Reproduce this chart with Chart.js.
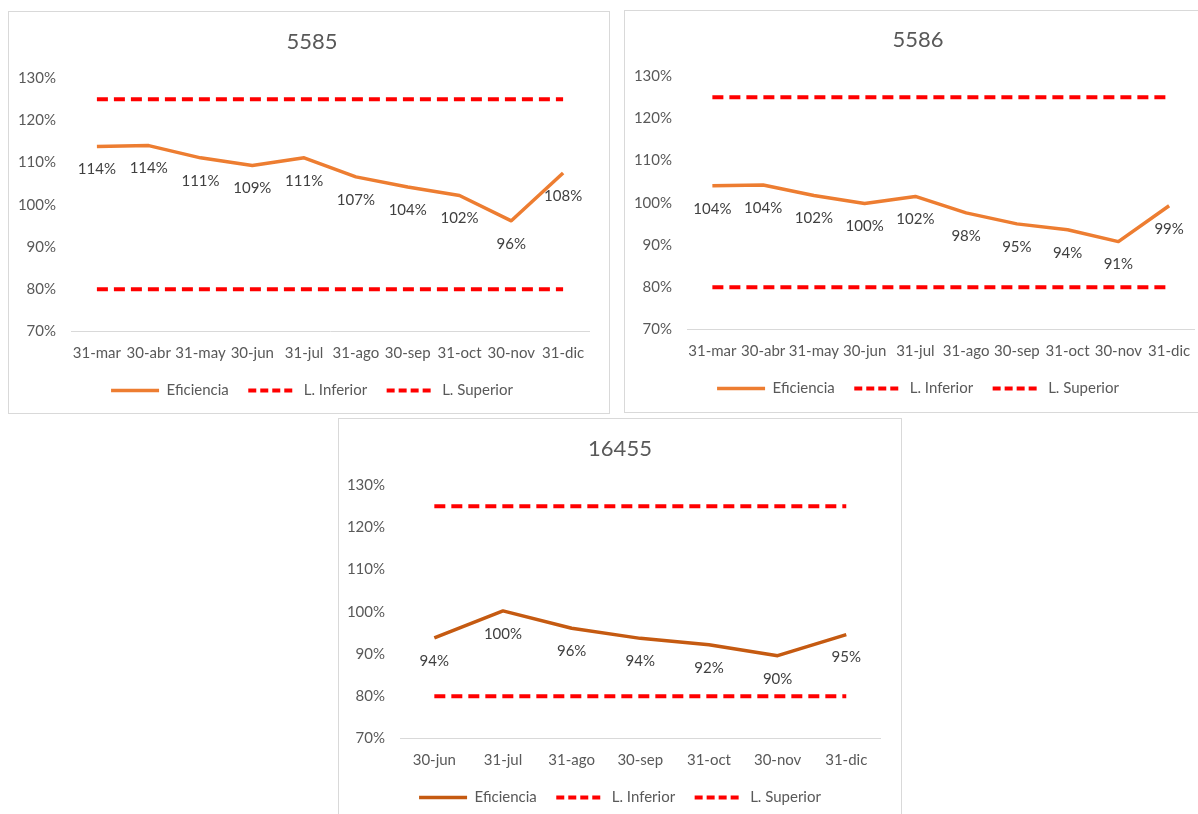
<!DOCTYPE html>
<html lang="es">
<head>
    <meta charset="UTF-8">
    <title>Eficiencia 5585 / 5586 / 16455</title>
    <style>
        html, body { margin: 0; padding: 0; background: #ffffff; overflow: hidden; width: 1198px; height: 814px; }
        .frame { position: absolute; border: 1px solid #d9d9d9; box-sizing: border-box; }
        canvas { position: absolute; }
    </style>
</head>
<body>
    <div class="frame" style="left:8px; top:11px; width:602px; height:403px;"></div>
    <div class="frame" style="left:624px; top:10px; width:600px; height:403px;"></div>
    <div class="frame" style="left:338px; top:418px; width:564px; height:420px;"></div>

    <canvas id="chart5585" width="608" height="396" style="left:8px; top:12px;"></canvas>
    <canvas id="chart5586" width="588" height="396" style="left:624px; top:10px;"></canvas>
    <canvas id="chart16455" width="564" height="396" style="left:338px; top:419px;"></canvas>

    <script src="https://cdn.jsdelivr.net/npm/chart.js"></script>

<script>
    // categories and values (percent)
    const labels5585 = ['31-mar', '30-abr', '31-may', '30-jun', '31-jul', '31-ago', '30-sep', '31-oct', '30-nov', '31-dic'];
    const eff5585 = [113.8, 114.0, 111.1, 109.3, 111.1, 106.6, 104.2, 102.2, 96.2, 107.5];
    const inf5585 = [80, 80, 80, 80, 80, 80, 80, 80, 80, 80];
    const sup5585 = [125, 125, 125, 125, 125, 125, 125, 125, 125, 125];

    const labels5586 = ['31-mar', '30-abr', '31-may', '30-jun', '31-jul', '31-ago', '30-sep', '31-oct', '30-nov', '31-dic'];
    const eff5586 = [104.0, 104.2, 101.7, 99.8, 101.5, 97.6, 95.0, 93.6, 90.8, 99.3];
    const inf5586 = [80, 80, 80, 80, 80, 80, 80, 80, 80, 80];
    const sup5586 = [125, 125, 125, 125, 125, 125, 125, 125, 125, 125];

    const labels16455 = ['30-jun', '31-jul', '31-ago', '30-sep', '31-oct', '30-nov', '31-dic'];
    const eff16455 = [93.8, 100.2, 96.1, 93.7, 92.2, 89.6, 94.6];
    const inf16455 = [80, 80, 80, 80, 80, 80, 80];
    const sup16455 = [125, 125, 125, 125, 125, 125, 125];

    const yTicks = [70, 80, 90, 100, 110, 120, 130];

    const FONT = 'Lato';

    // percent labels under each point of the first dataset
    const valueLabels = {
        id: 'valueLabels',
        afterDatasetsDraw(chart) {
            const ctx = chart.ctx;
            const meta = chart.getDatasetMeta(0);
            const data = chart.data.datasets[0].data;
            ctx.save();
            ctx.font = '15px ' + FONT;
            ctx.fillStyle = '#404040';
            ctx.textAlign = 'center';
            ctx.textBaseline = 'middle';
            meta.data.forEach((pt, i) => {
                ctx.fillText(Math.round(data[i]) + '%', pt.x, pt.y + 23);
            });
            ctx.restore();
        }
    };

    // legend items keep the dash of their dataset (shorter dashes in the legend sample)
    function legend_labels(chart) {
        const items = Chart.defaults.plugins.legend.labels.generateLabels(chart);
        items.forEach((item) => {
            const ds = chart.data.datasets[item.datasetIndex];
            item.lineDash = ds.borderDash ? [8, 4] : [];
            item.lineWidth = ds.borderWidth;
            item.strokeStyle = ds.borderColor;
            item.lineCap = 'butt';
        });
        return items;
    }

    function make_chart(id, title, labels, eff, inf, sup, lineColor, yWidth, rightGap) {
        const limitStyle = {
            borderColor: '#ff0000',
            backgroundColor: '#ff0000',
            borderWidth: 4,
            borderDash: [11, 6],
            pointRadius: 0,
            fill: false
        };
        return new Chart(document.getElementById(id).getContext('2d'), {
            type: 'line',
            data: {
                labels: labels,
                datasets: [
                    {
                        label: 'Eficiencia',
                        data: eff,
                        borderColor: lineColor,
                        backgroundColor: lineColor,
                        borderWidth: 3.5,
                        borderJoinStyle: 'round',
                        pointRadius: 0,
                        tension: 0,
                        fill: false
                    },
                    Object.assign({ label: 'L. Inferior', data: inf }, limitStyle),
                    Object.assign({ label: 'L. Superior', data: sup }, limitStyle)
                ]
            },
            options: {
                responsive: false,
                animation: false,
                layout: { padding: 0 },
                plugins: {
                    title: {
                        display: true,
                        text: title,
                        color: '#595959',
                        font: { family: FONT, size: 22, weight: 'normal' },
                        padding: { top: 16.8, bottom: 22.8 }
                    },
                    legend: {
                        position: 'bottom',
                        labels: {
                            usePointStyle: true,
                            pointStyle: 'line',
                            pointStyleWidth: 48,
                            padding: 19.5,
                            color: '#595959',
                            font: { family: FONT, size: 15 },
                            generateLabels: legend_labels
                        }
                    },
                    tooltip: { enabled: false }
                },
                scales: {
                    x: {
                        offset: true,
                        grid: { display: false, drawTicks: false },
                        border: { display: true, color: '#d9d9d9', width: 1 },
                        ticks: { color: '#595959', font: { family: FONT, size: 15 }, padding: 13, maxRotation: 0, autoSkip: false },
                        afterFit: (scale) => { scale.height = 32; }
                    },
                    y: {
                        min: 70,
                        max: 130,
                        grid: { display: false, drawTicks: false },
                        border: { display: false },
                        afterBuildTicks: (scale) => { scale.ticks = yTicks.map(v => ({ value: v })); },
                        ticks: {
                            color: '#595959',
                            font: { family: FONT, size: 15 },
                            padding: 15,
                            callback: (v) => v + '%'
                        },
                        afterFit: (scale) => { scale.width = yWidth; }
                    },
                    // empty right axis, only keeps the gap right of the plot
                    gap: {
                        type: 'linear',
                        position: 'right',
                        grid: { display: false, drawTicks: false },
                        border: { display: false },
                        ticks: { display: false },
                        afterFit: (scale) => { scale.width = rightGap; }
                    }
                }
            },
            plugins: [valueLabels]
        });
    }

    function draw_all() {
        make_chart('chart5585', '5585', labels5585, eff5585, inf5585, sup5585, '#ed7d31', 63, 27);
        make_chart('chart5586', '5586', labels5586, eff5586, inf5586, sup5586, '#ed7d31', 63, 17.5);
        make_chart('chart16455', '16455', labels16455, eff16455, inf16455, sup16455, '#c55a11', 62, 21.4);
    }

    Promise.all([document.fonts.load('15px Lato'), document.fonts.load('22px Lato')])
        .then(draw_all, draw_all);
</script>
</body>
</html>
